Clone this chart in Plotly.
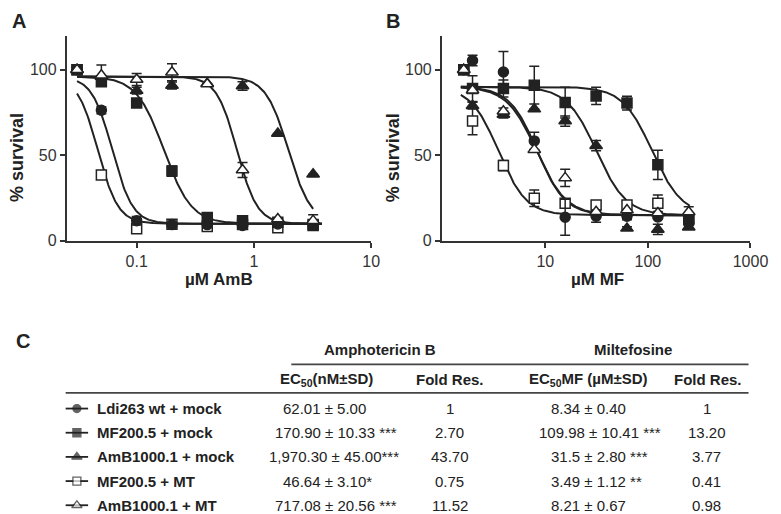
import numpy as np
import plotly.graph_objects as go

W, H = 781, 514

# ---------------- data ----------------
series_names = ["Ldi263 wt + mock", "MF200.5 + mock", "AmB1000.1 + mock",
                "MF200.5 + MT", "AmB1000.1 + MT"]

# Panel A : Amphotericin B (µM)
amb_conc = [0.031, 0.05, 0.1, 0.2, 0.4, 0.8, 1.6, 3.2]
amb_wt = [100, 76.3, 11.8, 9.5, 9.5, 9.0, 9.9, 9.3]
amb_wt_sd = [0, 2, 2.5, 1, 1, 1, 1, 1]
amb_mf = [100, 93.0, 80.5, 40.8, 13.7, 11.8, 10.9, 9.0]
amb_mf_sd = [0, 1, 0, 3, 2, 2, 1, 1]
amb_amb = [100, 96.0, 87.8, 90.8, 92.0, 90.5, 62.8, 38.9]
amb_amb_sd = [0, 0, 2, 2, 0, 2.5, 0, 0]
amb_mfmt = [100, 38.5, 7.0, 9.7, 8.4, 9.5, 7.6, 9.5]
amb_mfmt_sd = [0, 0, 0, 0, 0, 0, 0, 0]
amb_ambmt = [100, 96.8, 94.3, 98.5, 91.6, 41.4, 12.8, 11.8]
amb_ambmt_sd = [0, 6, 3.5, 5, 0, 4.4, 0, 3.5]

# Panel B : Miltefosine (µM)
mf_conc = [1.6, 1.95, 3.9, 7.8, 15.6, 31.25, 62.5, 125, 250]
mf_wt = [100, 105.4, 98.7, 58.4, 13.8, 14.4, 14.4, 14.0, 10.5]
mf_wt_sd = [0, 3, 12, 5, 10.5, 3.5, 2, 1, 1]
mf_mf = [100, 89, 89, 91, 80.8, 84.7, 80.5, 44.4, 12.5]
mf_mf_sd = [0, 7.5, 5, 11, 9, 5, 4, 8.5, 1.5]
mf_amb = [100, 79, 73.8, 77, 70, 55.6, 7.3, 6.7, 8]
mf_amb_sd = [0, 2, 2, 0, 3, 3, 1, 3, 1]
mf_mfmt = [100, 70, 44, 24.9, 22, 21, 21, 22, 13]
mf_mfmt_sd = [0, 8, 3, 4.8, 0, 0, 1, 4.8, 0]
mf_ambmt = [100, 88, 75.7, 53.3, 36.8, 17, 18, 16.3, 16.9]
mf_ambmt_sd = [0, 0, 2, 0, 5, 0, 0, 0, 3]

# Dose-response fit parameters (EC50 from table, Hill slopes)
amb_ec50_nM = [62.01, 170.90, 1970.30, 46.64, 717.08]
amb_hill = [5.0, 3.7, 4.5, 5.0, 5.0]
amb_top, amb_bottom = 96, 10
amb_fit_lo = [0.031, 0.031, 0.031, 0.031, 0.031]
amb_fit_hi = [3.8, 3.8, 3.2, 3.8, 3.8]

mf_ec50_uM = [8.34, 109.98, 31.5, 3.49, 8.21]
mf_hill = [3.2, 3.0, 3.0, 3.2, 3.0]
mf_top, mf_bottom = 90, 15
mf_fit_lo = [1.5, 1.5, 1.5, 1.5, 1.5]
mf_fit_hi = [256, 256, 256, 256, 256]

# Table (panel C)
amb_ec50_txt = ["62.01 ± 5.00", "170.90 ± 10.33", "1,970.30 ± 45.00", "46.64 ± 3.10", "717.08 ± 20.56"]
amb_sig = ["", " ***", "***", "*", " ***"]
amb_fold = ["1", "2.70", "43.70", "0.75", "11.52"]
mf_ec50_txt = ["8.34 ± 0.40", "109.98 ± 10.41", "31.5 ± 2.80", "3.49 ± 1.12", "8.21 ± 0.67"]
mf_sig = ["", " ***", " ***", " **", ""]
mf_fold = ["1", "13.20", "3.77", "0.41", "0.98"]

amb_ticks = [0.1, 1, 10]
amb_ticktext = ["0.1", "1", "10"]
mf_ticks = [10, 100, 1000]
mf_ticktext = ["10", "100", "1000"]
y_ticks = [0, 50, 100]

# ---------------- styles ----------------
INK = "#222222"
FONT = "Liberation Sans, Arial, sans-serif"
sym = ["circle", "square", "triangle-up", "square", "triangle-up"]
fill = [INK, INK, INK, "white", "white"]
msize = [10, 10, 11, 10, 11]
draw_order = [3, 0, 1, 2, 4]

fig = go.Figure()

def fit(x, ec50, h, top, bottom):
    x = np.asarray(x)
    return bottom + (top - bottom) / (1 + (x / ec50) ** h)

def nz(a):
    return [v if v else None for v in a]

panels = [
    dict(xa="x", ya="y", conc=amb_conc,
         vals=[amb_wt, amb_mf, amb_amb, amb_mfmt, amb_ambmt],
         sds=[amb_wt_sd, amb_mf_sd, amb_amb_sd, amb_mfmt_sd, amb_ambmt_sd],
         ec50=[v / 1000 for v in amb_ec50_nM], hill=amb_hill, top=amb_top, bot=amb_bottom,
         lo=amb_fit_lo, hi=amb_fit_hi),
    dict(xa="x2", ya="y2", conc=mf_conc,
         vals=[mf_wt, mf_mf, mf_amb, mf_mfmt, mf_ambmt],
         sds=[mf_wt_sd, mf_mf_sd, mf_amb_sd, mf_mfmt_sd, mf_ambmt_sd],
         ec50=mf_ec50_uM, hill=mf_hill, top=mf_top, bot=mf_bottom,
         lo=mf_fit_lo, hi=mf_fit_hi),
]

for p in panels:
    for i in range(5):
        xs = np.logspace(np.log10(p["lo"][i]), np.log10(p["hi"][i]), 300)
        fig.add_trace(go.Scatter(x=xs, y=fit(xs, p["ec50"][i], p["hill"][i], p["top"], p["bot"]),
                                 mode="lines", line=dict(color=INK, width=2),
                                 xaxis=p["xa"], yaxis=p["ya"], showlegend=False, hoverinfo="skip"))
    for i in draw_order:
        fig.add_trace(go.Scatter(
            x=p["conc"], y=p["vals"][i], mode="markers", name=series_names[i],
            marker=dict(symbol=sym[i], size=msize[i], color=fill[i],
                        line=dict(color=INK, width=1.5)),
            error_y=dict(type="data", array=nz(p["sds"][i]), color=INK, thickness=1.5, width=5),
            xaxis=p["xa"], yaxis=p["ya"], showlegend=False))

# ---------------- table glyphs (pixel overlay axis) ----------------
row_y0, row_dy = 407.7, 24.6
rows_y = [row_y0 + row_dy * i for i in range(5)]
gl_x0, gl_x1, gl_xm = 59, 82, 70.5
lx, ly = [], []
for y in rows_y:
    lx += [gl_x0, gl_x1, None]
    ly += [y, y, None]
fig.add_trace(go.Scatter(x=lx, y=ly, mode="lines", line=dict(color=INK, width=1.8),
                         xaxis="x3", yaxis="y3", showlegend=False, hoverinfo="skip"))
fig.add_trace(go.Scatter(x=[gl_xm] * 5, y=rows_y, mode="markers",
                         marker=dict(symbol=sym, size=[8, 8, 9, 8, 9], color=fill,
                                     line=dict(color=INK, width=1.3)),
                         xaxis="x3", yaxis="y3", showlegend=False, hoverinfo="skip"))

# ---------------- layout ----------------
def xdom(a, b):
    return [a / W, b / W]

ydom = [1 - 237 / H, 1 - 28 / H]
axis_common = dict(showline=True, linecolor="#333", linewidth=1.6, ticks="outside",
                   ticklen=5, tickwidth=1.5, tickcolor="#333", showgrid=False, zeroline=False,
                   tickfont=dict(family=FONT, size=16, color="#333"))

fig.update_layout(
    width=W, height=H, autosize=False,
    margin=dict(l=0, r=0, t=0, b=0),
    paper_bgcolor="white", plot_bgcolor="rgba(0,0,0,0)",
    font=dict(family=FONT, color=INK),
    xaxis=dict(domain=xdom(60, 371.7), type="log", range=[-1.5975, 1],
               tickvals=amb_ticks, ticktext=amb_ticktext, anchor="y", **axis_common),
    yaxis=dict(domain=ydom, range=[0, 120], tickvals=y_ticks, anchor="x", **axis_common),
    xaxis2=dict(domain=xdom(444, 760), type="log", range=[-0.01, 3],
                tickvals=mf_ticks, ticktext=mf_ticktext, anchor="y2", **axis_common),
    yaxis2=dict(domain=ydom, range=[0, 120], tickvals=y_ticks, anchor="x2", **axis_common),
    xaxis3=dict(domain=[0, 1], range=[0, W], visible=False, anchor="y3", fixedrange=True),
    yaxis3=dict(domain=[0, 1], range=[H, 0], visible=False, anchor="x3", fixedrange=True),
    showlegend=False,
)

ann = []
def txt(x, y, s, size=15, bold=False, xanchor="center", angle=0):
    ann.append(dict(x=x, y=y, xref="x3", yref="y3", text=f"<b>{s}</b>" if bold else s,
                    showarrow=False, xanchor=xanchor, yanchor="middle", textangle=angle,
                    font=dict(family=FONT, size=size, color=INK)))

# panel letters
txt(11, 13, "A", 20, True)
txt(394, 13, "B", 20, True)
txt(15, 339, "C", 20, True)
# axis titles
txt(10, 152, "% survival", 18, True, angle=-90)
txt(394, 152, "% survival", 18, True, angle=-90)
txt(216, 276, "µM AmB", 17, True)
txt(603, 276, "µM MF", 17, True)

# table headers
txt(381, 347.7, "Amphotericin B", 15, True)
txt(640, 347.7, "Miltefosine", 15, True)
txt(326, 378.3, "EC<sub>50</sub>(nM±SD)", 15, True)
txt(452, 378.3, "Fold Res.", 15, True)
txt(594, 378.3, "EC<sub>50</sub>MF (µM±SD)", 15, True)
txt(716, 378.3, "Fold Res.", 15, True)

CW = {".": .278, ",": .278, " ": .278, "±": .549, "*": .389}
def tw(s, size=15):
    return sum(CW.get(c, .556) for c in s) * size

for i, y in enumerate(rows_y):
    txt(89, y, series_names[i], 15, True, xanchor="left")
    txt(322 - tw(amb_ec50_txt[i]) / 2 - 1, y, amb_ec50_txt[i] + amb_sig[i], 15, xanchor="left")
    txt(452, y, amb_fold[i], 15)
    txt(592 - tw(mf_ec50_txt[i]) / 2 - 1, y, mf_ec50_txt[i] + mf_sig[i], 15, xanchor="left")
    txt(715, y, mf_fold[i], 15)

fig.update_layout(annotations=ann, shapes=[
    dict(type="line", xref="x3", yref="y3", x0=290, x1=758, y0=362.7, y1=362.7,
         line=dict(color="#444", width=1.8)),
    dict(type="line", xref="x3", yref="y3", x0=59, x1=758, y0=391.7, y1=391.7,
         line=dict(color="#444", width=1.8)),
])

fig.write_html("out.html")
